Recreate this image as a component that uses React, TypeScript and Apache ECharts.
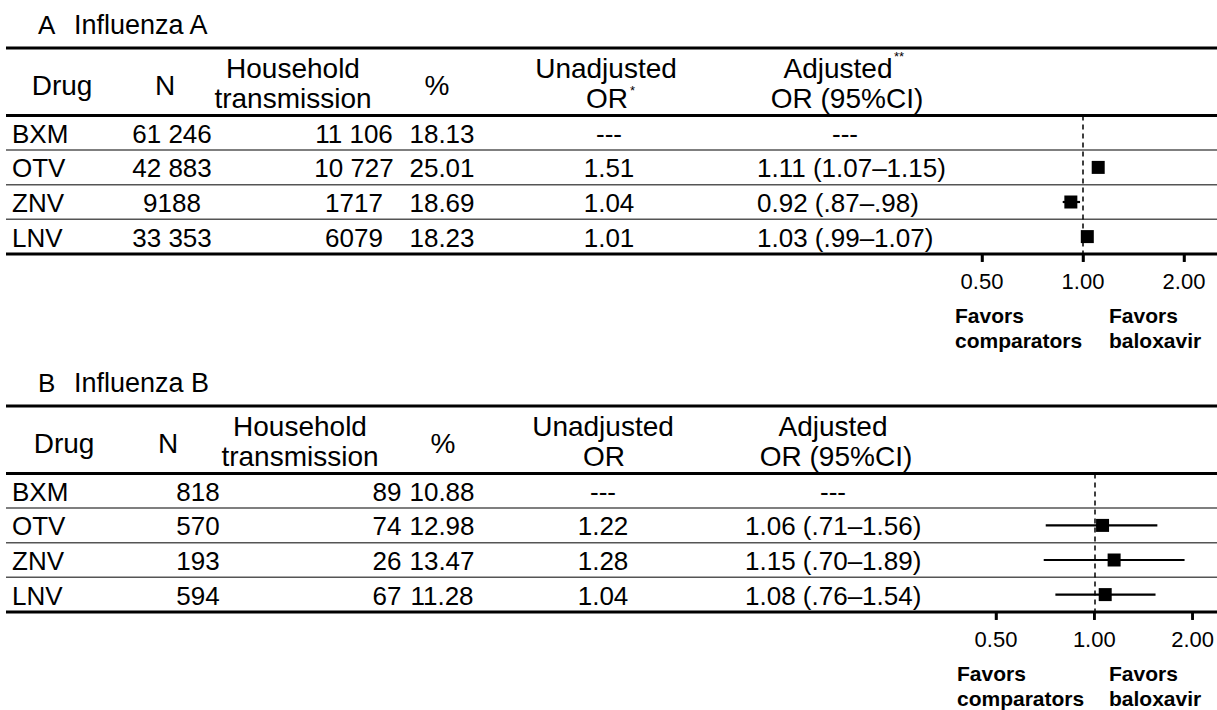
import React, { useEffect, useRef } from "react";
import * as echarts from "echarts";

const drugs = ["BXM", "OTV", "ZNV", "LNV"];

// Panel A – Influenza A
const nA = ["61 246", "42 883", "9188", "33 353"];
const hhA = ["11 106", "10 727", "1717", "6079"];
const pctA = ["18.13", "25.01", "18.69", "18.23"];
const unadjA = ["---", "1.51", "1.04", "1.01"];
const adjTextA = ["---", "1.11 (1.07–1.15)", "0.92 (.87–.98)", "1.03 (.99–1.07)"];
const orA = [null, 1.11, 0.92, 1.03];
const loA = [null, 1.07, 0.87, 0.99];
const hiA = [null, 1.15, 0.98, 1.07];

// Panel B – Influenza B
const nB = ["818", "570", "193", "594"];
const hhB = ["89", "74", "26", "67"];
const pctB = ["10.88", "12.98", "13.47", "11.28"];
const unadjB = ["---", "1.22", "1.28", "1.04"];
const adjTextB = ["---", "1.06 (.71–1.56)", "1.15 (.70–1.89)", "1.08 (.76–1.54)"];
const orB = [null, 1.06, 1.15, 1.08];
const loB = [null, 0.71, 0.7, 0.76];
const hiB = [null, 1.56, 1.89, 1.54];

const tickValues = [0.5, 1, 2];
const tickLabels = ["0.50", "1.00", "2.00"];

const FONT = "Liberation Sans, Arial, Helvetica, sans-serif";

type Panel = {
  letter: string;
  title: string;
  n: string[];
  hh: string[];
  pct: string[];
  unadj: string[];
  adjText: string[];
  or: (number | null)[];
  lo: (number | null)[];
  hi: (number | null)[];
  sup: boolean;
  dy: number;
  gridLeft: number;
  nX: number;
  hhX: number;
  pctX: number;
  unX: number;
  adjLeft: number;
  adjDashX: number;
  hdr: { drug: number; n: number; hh: number; pct: number; un: number; adj1: number; adj2: number };
  favL: number;
  favR: number;
  favY: number;
};

const panels: Panel[] = [
  {
    letter: "A",
    title: "Influenza A",
    n: nA, hh: hhA, pct: pctA, unadj: unadjA, adjText: adjTextA, or: orA, lo: loA, hi: hiA,
    sup: true,
    dy: 0, gridLeft: 982, nX: 172, hhX: 354, pctX: 442, unX: 609, adjLeft: 757, adjDashX: 845,
    hdr: { drug: 62, n: 165, hh: 293, pct: 437, un: 606, adj1: 838, adj2: 847 },
    favL: 955, favR: 1109, favY: 315,
  },
  {
    letter: "B",
    title: "Influenza B",
    n: nB, hh: hhB, pct: pctB, unadj: unadjB, adjText: adjTextB, or: orB, lo: loB, hi: hiB,
    sup: false,
    dy: 358, gridLeft: 996, nX: 198, hhX: 387, pctX: 442, unX: 603, adjLeft: 745, adjDashX: 833,
    hdr: { drug: 64, n: 168, hh: 300, pct: 443, un: 603, adj1: 833, adj2: 836 },
    favL: 957, favR: 1109, favY: 315 + 358,
  },
];

const TABLE_TOP = 48;
const HEADER_BOTTOM = 115.5;
const ROW_H = 34.6;

function txt(x: number, y: number, text: string, size: number, align = "center", weight = "normal") {
  return {
    type: "text",
    x,
    y,
    silent: true,
    style: {
      text,
      x: 0,
      y: 0,
      fill: "#000",
      font: `${weight} ${size}px ${FONT}`,
      align,
      verticalAlign: "middle",
    },
  };
}

function hline(y: number, w: number, color: string) {
  return {
    type: "line",
    silent: true,
    shape: { x1: 6, y1: y, x2: 1217, y2: y },
    style: { stroke: color, lineWidth: w },
  };
}

export default function App() {
  const ref = useRef<HTMLDivElement>(null);

  useEffect(() => {
    document.body.style.margin = "0";
    if (!ref.current) return;
    const chart = echarts.init(ref.current, undefined, { renderer: "svg" });

    const graphics: any[] = [];
    panels.forEach((p) => {
      const d = p.dy;
      graphics.push(txt(38, 25 + d, p.letter, 26, "left"));
      graphics.push(txt(74, 25 + d, p.title, 27, "left"));
      graphics.push(hline(TABLE_TOP + d, 3, "#000"));
      graphics.push(hline(HEADER_BOTTOM + d, 3, "#000"));
      const bottom = HEADER_BOTTOM + 4 * ROW_H + d;
      for (let i = 1; i < 4; i++) graphics.push(hline(HEADER_BOTTOM + i * ROW_H + d, 1.5, "#555"));
      graphics.push(hline(bottom, 3, "#000"));

      // headers
      const hs = 28;
      graphics.push(txt(p.hdr.drug, 85 + d, "Drug", hs));
      graphics.push(txt(p.hdr.n, 85 + d, "N", hs));
      graphics.push(txt(p.hdr.hh, 68 + d, "Household", hs));
      graphics.push(txt(p.hdr.hh, 98 + d, "transmission", hs));
      graphics.push(txt(p.hdr.pct, 85 + d, "%", hs));
      graphics.push(txt(p.hdr.un, 68 + d, "Unadjusted", hs));
      graphics.push(txt(p.hdr.un + 1, 98 + d, "OR", hs));
      graphics.push(txt(p.hdr.adj1, 68 + d, "Adjusted", hs));
      graphics.push(txt(p.hdr.adj2, 98 + d, "OR (95%CI)", hs));
      if (p.sup) {
        graphics.push(txt(p.hdr.un + 24, 90 + d, "*", 13, "left"));
        graphics.push(txt(p.hdr.adj1 + 56, 56 + d, "**", 13, "left"));
      }

      // data rows
      const ds = 26;
      drugs.forEach((dr, i) => {
        const y = HEADER_BOTTOM + (i + 0.5) * ROW_H + d + 1;
        graphics.push(txt(12, y, dr, ds, "left"));
        graphics.push(txt(p.nX, y, p.n[i], ds));
        graphics.push(txt(p.hhX, y, p.hh[i], ds));
        graphics.push(txt(p.pctX, y, p.pct[i], ds));
        graphics.push(txt(p.unX, y, p.unadj[i], ds));
        if (p.or[i] == null) graphics.push(txt(p.adjDashX, y, p.adjText[i], ds));
        else graphics.push(txt(p.adjLeft, y, p.adjText[i], ds, "left"));
      });

      // favors labels
      graphics.push(txt(p.favL, p.favY, "Favors", 21, "left", "bold"));
      graphics.push(txt(p.favL, p.favY + 25, "comparators", 21, "left", "bold"));
      graphics.push(txt(p.favR, p.favY, "Favors", 21, "left", "bold"));
      graphics.push(txt(p.favR, p.favY + 25, "baloxavir", 21, "left", "bold"));
    });

    const grids = panels.map((p) => ({
      left: p.gridLeft,
      width: 202,
      top: HEADER_BOTTOM + p.dy,
      height: 4 * ROW_H,
      containLabel: false,
    }));

    const xAxes = panels.map((p, gi) => ({
      type: "log",
      logBase: 2,
      min: 0.5,
      max: 2,
      gridIndex: gi,
      axisLine: { show: false },
      axisTick: { show: true, length: 8, lineStyle: { color: "#000", width: 2.5 } },
      splitLine: { show: false },
      axisLabel: {
        color: "#000",
        fontSize: 22,
        fontFamily: FONT,
        margin: 17,
        formatter: (v: number) => {
          const idx = tickValues.findIndex((t) => Math.abs(t - v) < 1e-6);
          return idx >= 0 ? tickLabels[idx] : v.toFixed(2);
        },
      },
    }));

    const yAxes = panels.map((p, gi) => ({
      type: "category",
      data: drugs,
      inverse: true,
      gridIndex: gi,
      show: false,
    }));

    const series: any[] = [];
    panels.forEach((p, gi) => {
      // tick marks just below the bottom rule, placed by the x scale
      series.push({
        type: "custom",
        xAxisIndex: gi,
        yAxisIndex: gi,
        silent: true,
        clip: false,
        z: 7,
        encode: { x: 0, y: 1 },
        data: tickValues.map((v) => [v, drugs.length - 1]),
        renderItem: (params: any, api: any) => {
          const pt = api.coord([api.value(0), api.value(1)]);
          const yb = pt[1] + ROW_H / 2;
          return {
            type: "line",
            shape: { x1: pt[0], y1: yb, x2: pt[0], y2: yb + 8 },
            style: { stroke: "#000", lineWidth: 2.5 },
          };
        },
      });
      const ciData = drugs
        .map((dr, i) => (p.or[i] == null ? null : [p.lo[i], p.hi[i], i]))
        .filter((x) => x != null);
      series.push({
        type: "custom",
        xAxisIndex: gi,
        yAxisIndex: gi,
        silent: true,
        encode: { x: [0, 1], y: 2 },
        data: ciData,
        renderItem: (params: any, api: any) => {
          const a = api.coord([api.value(0), api.value(2)]);
          const b = api.coord([api.value(1), api.value(2)]);
          return {
            type: "line",
            shape: { x1: a[0], y1: a[1], x2: b[0], y2: b[1] },
            style: { stroke: "#000", lineWidth: 2.2 },
          };
        },
      });
      const ptData = drugs
        .map((dr, i) => (p.or[i] == null ? null : [p.or[i], i]))
        .filter((x) => x != null);
      series.push({
        type: "scatter",
        xAxisIndex: gi,
        yAxisIndex: gi,
        silent: true,
        symbol: "rect",
        symbolSize: 13,
        itemStyle: { color: "#000", opacity: 1 },
        data: ptData,
        z: 5,
        markLine: {
          silent: true,
          symbol: "none",
          label: { show: false },
          lineStyle: { type: [5, 4], color: "#000", width: 1.5, opacity: 1 },
          data: [{ xAxis: 1 }],
        },
      });
    });

    chart.setOption({
      animation: false,
      backgroundColor: "#fff",
      grid: grids,
      xAxis: xAxes,
      yAxis: yAxes,
      series,
      graphic: graphics,
    });

    return () => chart.dispose();
  }, []);

  return <div ref={ref} style={{ width: 1217, height: 710 }} />;
}
